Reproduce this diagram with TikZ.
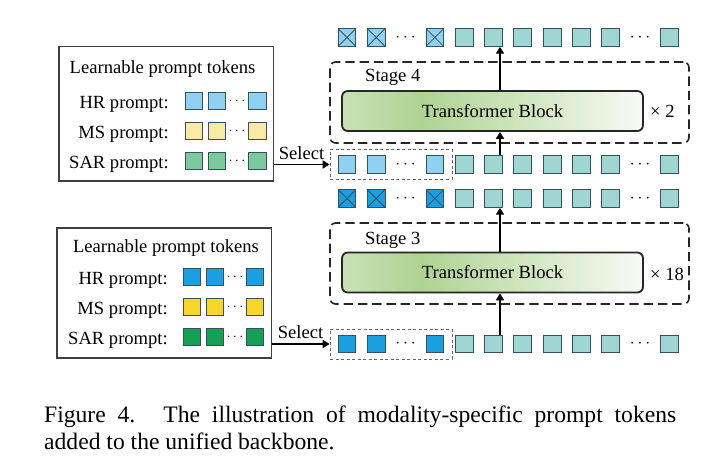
\documentclass[tikz,border=0pt]{standalone}
\usepackage{fontspec}
\setmainfont{Liberation Serif}
\usetikzlibrary{positioning,arrows.meta}

\definecolor{hrlight}{RGB}{144,209,242}
\definecolor{mslight}{RGB}{249,235,166}
\definecolor{sarlight}{RGB}{124,201,158}
\definecolor{hrdark}{RGB}{26,159,224}
\definecolor{msdark}{RGB}{248,213,43}
\definecolor{sardark}{RGB}{22,160,86}
\definecolor{patch}{RGB}{159,213,210}
\definecolor{tokline}{RGB}{55,80,95}
\definecolor{tbleft}{RGB}{200,225,182}
\definecolor{tbmid}{RGB}{174,211,146}
\definecolor{tbright}{RGB}{247,250,244}
\pgfdeclarehorizontalshading{tbshade}{100bp}{color(0bp)=(tbleft); color(25bp)=(tbleft); color(38bp)=(tbmid); color(75bp)=(tbright); color(100bp)=(tbright)}

\begin{document}
\begin{tikzpicture}[font=\fontsize{18.5}{22}\selectfont,
		tok/.style={draw=tokline, line width=0.9pt, minimum size=0.62cm, inner sep=0pt},
		xtok/.style={tok, path picture={\draw[tokline, line width=0.8pt] (path picture bounding box.south west) -- (path picture bounding box.north east) (path picture bounding box.north west) -- (path picture bounding box.south east);}},
		promptbox/.style={draw=black!75, line width=1pt, inner sep=0pt},
		selbox/.style={draw=black!60, line width=0.8pt, dash pattern=on 3pt off 2.5pt, minimum width=4.27cm, minimum height=1.05cm, inner sep=0pt},
		stagebox/.style={draw=black!85, line width=1.6pt, dash pattern=on 0.33cm off 0.17cm, rounded corners=0.2cm, minimum width=12.565cm, minimum height=2.835cm, inner sep=0pt},
		tbblock/.style={draw=black!85, line width=1.8pt, rounded corners=0.2cm, shade, shading=tbshade, minimum width=10.535cm, minimum height=1.4cm},
		flow/.style={-{Triangle[length=0.24cm, width=0.28cm]}, line width=1.5pt},
		smalldots/.style={inner sep=0pt, font=\fontsize{15}{15}\selectfont}]
		\useasboundingbox (0,0) rectangle (25.025,-16.03);

		% Upper prompt pool (light colours)
		\node[promptbox, minimum width=7.49cm, minimum height=4.69cm] (pool4) at (5.81,-3.99) {};
		\node[anchor=base] (pool4title) at (5.69,-2.59) {Learnable prompt tokens};
		\foreach \name/\lab/\y/\col in {hr/HR/-3.535/hrlight, ms/MS/-4.585/mslight, sar/SAR/-5.635/sarlight}{
			\node[anchor=base east, inner sep=0pt] (\name4lab) at (5.915,{\y-0.26}) {\lab{} prompt:};
			\node[tok, fill=\col] (\name4a) at (6.79,\y) {};
			\node[tok, fill=\col] (\name4b) at (7.595,\y) {};
			\node[smalldots] (\name4dots) at (8.295,\y) {$\cdots$};
			\node[tok, fill=\col] (\name4c) at (9.01,\y) {};
		}

		% Lower prompt pool (strong colours)
		\node[promptbox, minimum width=7.49cm, minimum height=4.55cm] (pool3) at (5.74,-10.255) {};
		\node[anchor=base] (pool3title) at (5.81,-8.845) {Learnable prompt tokens};
		\foreach \name/\lab/\y/\col in {hr/HR/-9.695/hrdark, ms/MS/-10.745/msdark, sar/SAR/-11.795/sardark}{
			\node[anchor=base east, inner sep=0pt] (\name3lab) at (5.88,{\y-0.26}) {\lab{} prompt:};
			\node[tok, fill=\col] (\name3a) at (6.72,\y) {};
			\node[tok, fill=\col] (\name3b) at (7.525,\y) {};
			\node[smalldots] (\name3dots) at (8.225,\y) {$\cdots$};
			\node[tok, fill=\col] (\name3c) at (8.925,\y) {};
		}

		% Stage 4
		\node[stagebox] (stage4) at (17.8325,-3.5875) {};
		\node[anchor=base west, inner sep=0pt] (stage4lab) at (12.775,-2.86) {Stage 4};
		\node[tbblock] (tb4) at (17.2375,-3.885) {Transformer Block};
		\node[anchor=base west, inner sep=0pt] (rep4) at (22.75,-4.13) {× 2};

		% Stage 3
		\node[stagebox] (stage3) at (17.8325,-9.2225) {};
		\node[anchor=base west, inner sep=0pt] (stage3lab) at (12.775,-8.54) {Stage 3};
		\node[tbblock] (tb3) at (17.2375,-9.5375) {Transformer Block};
		\node[anchor=base west, inner sep=0pt] (rep3) at (22.75,-9.8) {× 18};

		% Token rows: o4 = stage 4 output, i4 = stage 4 input, o3 / i3 the same for stage 3
		\foreach \k in {0,1,3} \node[xtok, fill=hrlight] (o4\k) at ({12.145+1.0255*\k},-1.3125) {};
		\foreach \k in {0,1,3} \node[tok, fill=hrlight] (i4\k) at ({12.145+1.0255*\k},-5.7575) {};
		\foreach \k in {0,1,3} \node[xtok, fill=hrdark] (o3\k) at ({12.145+1.0255*\k},-6.9475) {};
		\foreach \k in {0,1,3} \node[tok, fill=hrdark] (i3\k) at ({12.145+1.0255*\k},-12.04) {};
		\foreach \row/\y in {o4/-1.3125, i4/-5.7575, o3/-6.9475, i3/-12.04}{
			\foreach \k in {4,...,9,11} \node[tok, fill=patch] (\row\k) at ({12.145+1.0255*\k},\y) {};
			\foreach \k in {2,10} \node[inner sep=0pt] (\row dots\k) at ({12.145+1.0255*\k},\y) {$\cdots$};
		}

		% Selected prompts
		\node[selbox] (sel4) at (13.685,-5.7575) {};
		\node[selbox] (sel3) at (13.685,-12.04) {};
		\draw[flow] (pool4.east |- sel4.west) -- node[above=1pt] (sel4txt) {Select} (sel4.west);
		\draw[flow] (pool3.east |- sel3.west) -- node[above=1pt] (sel3txt) {Select} (sel3.west);

		% Flow through the stages
		\coordinate (axis) at (17.5,0);
		\draw[flow] (i45.north -| axis) -- (tb4.south -| axis);
		\draw[flow] (tb4.north -| axis) -- (o45.south -| axis);
		\draw[flow] (i35.north -| axis) -- (tb3.south -| axis);
		\draw[flow] (tb3.north -| axis) -- (o35.south -| axis);

		% Caption
		\node[anchor=north west, inner sep=0pt, text width=22.12cm, align=justify, font=\fontsize{23.5}{27}\selectfont] (caption) at (1.54,-14.21)
		{\tolerance=9999 Figure 4.\hspace{0.1em} The illustration of modality-specific prompt tokens\linebreak added to the unified backbone.};
	\end{tikzpicture}
\end{document}
